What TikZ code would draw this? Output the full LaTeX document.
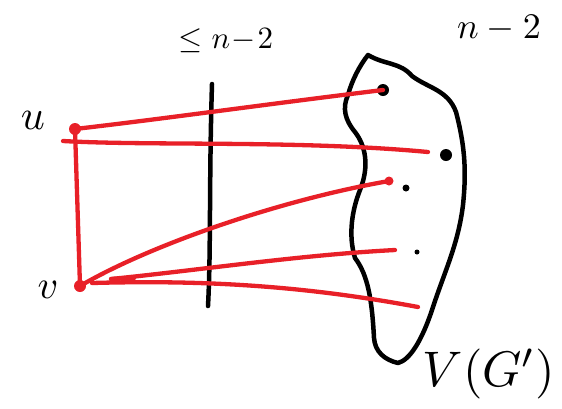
\documentclass[tikz,border=0pt]{standalone}
\usetikzlibrary{calc}
\definecolor{penred}{RGB}{232,32,40}
\tikzset{
  redline/.style={draw=penred,line width=4.3pt,line cap=round,line join=round},
  blackline/.style={draw=black,line width=4.5pt,line cap=round,line join=round},
  bigdot/.style={circle,fill=black,inner sep=0pt,minimum size=12pt},
  smalldot/.style={circle,fill=black,inner sep=0pt,minimum size=6pt},
  reddot/.style={circle,fill=penred,inner sep=0pt,minimum size=12pt},
  lbl/.style={inner sep=0pt}
}
\begin{document}
\begin{tikzpicture}[x=1pt,y=-1pt]
\useasboundingbox (0,0) rectangle (562,408);
% labels
\node[lbl,scale=4.2] (lu) at (33,120) {$u$};
\node[lbl,scale=4] (lv) at (48,290) {$v$};
\node[lbl,scale=3.1] (lle) at (226,41) {$\le n\!-\!2$};
\node[lbl,scale=3.6] (ln) at (499,28) {$n-2$};
\node[lbl,scale=5] (lV) at (489,374) {$V(G')$};
% vertices
\node[reddot] (u) at (75,129) {};
\node[reddot] (v) at (80,286) {};
% separator
\coordinate (s1) at (212,84);
\coordinate (s2) at (208,306);
\draw[blackline] (s1) .. controls (209,180) and (211,250) .. (s2);
% blob
\draw[blackline] (368,55) .. controls (385,65) and (400,62) .. (412,76)
  .. controls (428,88) and (448,90) .. (456,112)
  .. controls (466,150) and (466,175) .. (463,205)
  .. controls (458,245) and (445,270) .. (432,310)
  .. controls (422,340) and (410,360) .. (398,363)
  .. controls (385,360) and (375,352) .. (374,338)
  .. controls (372,300) and (368,275) .. (355,258)
  .. controls (348,235) and (352,210) .. (360,190)
  .. controls (370,165) and (365,145) .. (355,132)
  .. controls (345,120) and (342,108) .. (348,95)
  .. controls (352,80) and (360,65) .. (368,55);
% points inside blob
\node[bigdot] (w1) at (383,90) {};
\node[bigdot] (w2) at (446,155) {};
\node[smalldot,minimum size=7pt] (w3) at (406,188) {};
\node[smalldot,minimum size=5pt] (w4) at (417,252) {};
% red edges
\coordinate (a0) at (63,141);
\coordinate (a1) at (428,152);
\coordinate (b1) at (389,181);
\coordinate (c0) at (111,279);
\coordinate (c1) at (395,250);
\coordinate (d0) at (92,283);
\coordinate (d1) at (418,307);
\draw[redline] (u.center) -- (v.center);
\draw[redline] (u.center) .. controls (170,118) and (260,105) .. (w1.center);
\draw[redline] (a0) .. controls (150,146) and (300,140) .. (a1);
\draw[redline] (v.center) .. controls (150,245) and (280,200) .. (b1);
\fill[penred] (b1) circle (4.5pt);
\draw[redline] (c0) .. controls (200,270) and (300,255) .. (c1);
\draw[redline] (c0) -- (134,278);
\draw[redline] (d0) .. controls (200,280) and (300,285) .. (d1);
\end{tikzpicture}
\end{document}
